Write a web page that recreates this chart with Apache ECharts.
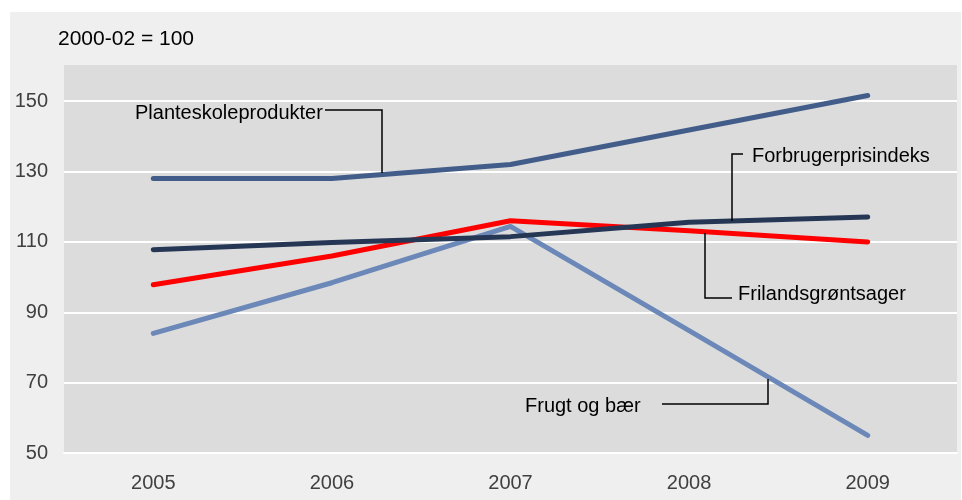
<!DOCTYPE html>
<html>
<head>
<meta charset="utf-8">
<title>Prisindeks</title>
<script src="https://cdn.jsdelivr.net/npm/echarts@6/dist/echarts.min.js"></script>
<style>
    html, body { margin: 0; padding: 0; background: #fff; }
    #chart { width: 962px; height: 500px; }
</style>
</head>
<body>
<div id="chart"></div>
<script>
// Data (2000-02 = 100)
var years = ['2005', '2006', '2007', '2008', '2009'];
var planteskole = [128, 128, 132, 141.8, 151.6];
var forbruger = [107.8, 109.8, 111.5, 115.6, 117.1];
var frilands = [97.8, 106, 116, 113.2, 110];
var frugt = [84, 98.4, 114.4, 84.8, 55];

var yTicks = [50, 70, 90, 110, 130, 150];

var fontFam = '"Liberation Sans", Arial, sans-serif';

// leader line helper
var leader = function(points){
    return {
        type: 'polyline',
        shape: { points: points },
        style: { stroke: '#000', lineWidth: 1.5, fill: null },
        z: 10
    };
};
var note = function(text, x, y){
    return {
        type: 'text',
        x: x, y: y,
        style: { text: text, fill: '#000', font: '20px ' + fontFam, textVerticalAlign: 'middle' },
        z: 10
    };
};

var chart = echarts.init(document.getElementById('chart'));

var lineSeries = function(name, data, color){
    return {
        name: name,
        type: 'line',
        data: data,
        symbol: 'none',
        lineStyle: { color: color, width: 5, cap: 'round', join: 'round' },
        itemStyle: { color: color }
    };
};

var option = {
    backgroundColor: '#fff',
    animation: false,
    grid: {
        left: 64, right: 5, top: 66, bottom: 47,
        show: true, backgroundColor: '#dcdcdc', borderWidth: 0
    },
    xAxis: {
        type: 'category',
        data: years,
        boundaryGap: true,
        axisLine: { show: true, lineStyle: { color: '#fff', width: 2 } },
        axisTick: { show: false },
        axisLabel: { color: '#404040', fontSize: 20, fontFamily: fontFam, margin: 20 }
    },
    yAxis: {
        type: 'value',
        min: 50, max: 160, interval: 20,
        axisLine: { show: false },
        axisTick: { show: false },
        axisLabel: {
            color: '#404040', fontSize: 20, fontFamily: fontFam, margin: 16,
            formatter: function(v){ return yTicks.indexOf(v) >= 0 ? String(v) : ''; }
        },
        splitLine: {
            lineStyle: { color: ['#fff', '#fff', '#fff', '#fff', '#fff', '#fff', '#dcdcdc'], width: 2 }
        }
    },
    series: [
        lineSeries('Frugt og bær', frugt, '#6b88b8'),
        lineSeries('Frilandsgrøntsager', frilands, '#ff0000'),
        lineSeries('Forbrugerprisindeks', forbruger, '#263756'),
        lineSeries('Planteskoleprodukter', planteskole, '#435d8a')
    ],
    graphic: [
        {
            type: 'rect',
            shape: { x: 10, y: 12, width: 951, height: 488 },
            style: { fill: '#efefef' },
            z: -10, silent: true
        },
        {
            type: 'text', x: 58, y: 39,
            style: { text: '2000-02 = 100', fill: '#000', font: '21px ' + fontFam, textVerticalAlign: 'middle' }
        },
        note('Planteskoleprodukter', 135, 113),
        leader([[325, 110], [382, 110], [382, 173]]),
        note('Forbrugerprisindeks', 752, 156),
        leader([[743, 154], [732, 154], [732, 221]]),
        note('Frilandsgrøntsager', 738, 294),
        leader([[732, 298], [705, 298], [705, 233]]),
        note('Frugt og bær', 525, 406),
        leader([[662, 404], [768, 404], [768, 379]])
    ]
};

chart.setOption(option);
</script>
</body>
</html>
